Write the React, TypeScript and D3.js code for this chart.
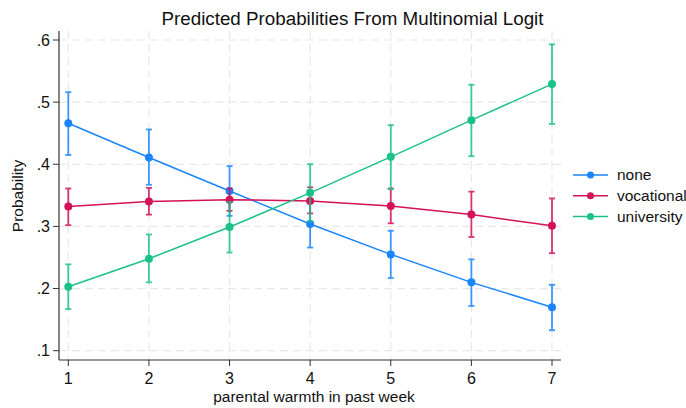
import React from "react";
import * as d3 from "d3";

const xValues = [1, 2, 3, 4, 5, 6, 7];
const seriesNames = ["none", "vocational", "university"];
const noneMean = [0.466, 0.411, 0.357, 0.304, 0.255, 0.21, 0.17];
const noneLo = [0.415, 0.367, 0.317, 0.266, 0.217, 0.172, 0.133];
const noneHi = [0.516, 0.456, 0.397, 0.342, 0.293, 0.247, 0.206];
const vocMean = [0.332, 0.34, 0.343, 0.341, 0.333, 0.319, 0.301];
const vocLo = [0.302, 0.319, 0.325, 0.321, 0.305, 0.283, 0.257];
const vocHi = [0.361, 0.362, 0.361, 0.363, 0.361, 0.356, 0.345];
const uniMean = [0.203, 0.248, 0.299, 0.354, 0.412, 0.471, 0.529];
const uniLo = [0.167, 0.21, 0.258, 0.308, 0.36, 0.413, 0.465];
const uniHi = [0.239, 0.287, 0.339, 0.4, 0.463, 0.528, 0.593];
const yTicks = [0.1, 0.2, 0.3, 0.4, 0.5, 0.6];
const yTickLabels = [".1", ".2", ".3", ".4", ".5", ".6"];
const colors = ["#1a85ff", "#d41159", "#1ac285"];

const series = [
  { name: seriesNames[0], mean: noneMean, lo: noneLo, hi: noneHi, color: colors[0] },
  { name: seriesNames[1], mean: vocMean, lo: vocLo, hi: vocHi, color: colors[1] },
  { name: seriesNames[2], mean: uniMean, lo: uniLo, hi: uniHi, color: colors[2] },
];

export default function App() {
  const W = 686, H = 408;
  const left = 59, right = 561, top = 31, bottom = 360;
  const x = d3.scaleLinear().domain([1, 7]).range([68.3, 552]);
  const y = d3.scaleLinear().domain([0.1, 0.6]).range([350.7, 40]);
  const line = d3.line<number>().x((_, i) => x(xValues[i])).y((d) => y(d));
  const font = "Arial, 'Liberation Sans', sans-serif";
  return (
    <svg width={W} height={H} style={{ position: "absolute", left: 0, top: 0, background: "#fff" }} fontFamily={font}>
      <rect x={0} y={0} width={W} height={H} fill="#fff" />
      {/* grid */}
      {yTicks.map((t) => (
        <line key={"gy" + t} x1={left} x2={right} y1={y(t)} y2={y(t)} stroke="#e8e8e8" strokeWidth={1.2} strokeDasharray="8,5" />
      ))}
      {xValues.map((t) => (
        <line key={"gx" + t} x1={x(t)} x2={x(t)} y1={top} y2={bottom} stroke="#e8e8e8" strokeWidth={1.2} strokeDasharray="8,5" />
      ))}
      {/* axes */}
      <line x1={left} x2={left} y1={top} y2={bottom} stroke="#333" strokeWidth={1.2} />
      <line x1={left} x2={right} y1={bottom} y2={bottom} stroke="#333" strokeWidth={1.2} />
      {yTicks.map((t, i) => (
        <g key={"yt" + t}>
          <line x1={left - 6} x2={left} y1={y(t)} y2={y(t)} stroke="#333" strokeWidth={1} />
          <text x={left - 9} y={y(t)} dy="0.35em" textAnchor="end" fontSize={16} fill="#111">{yTickLabels[i]}</text>
        </g>
      ))}
      {xValues.map((t) => (
        <g key={"xt" + t}>
          <line x1={x(t)} x2={x(t)} y1={bottom} y2={bottom + 6} stroke="#333" strokeWidth={1} />
          <text x={x(t)} y={bottom + 18} dy="0.35em" textAnchor="middle" fontSize={16} fill="#111">{t}</text>
        </g>
      ))}
      <text x={314} y={397} dy="0.35em" textAnchor="middle" fontSize={15.5} fill="#111">parental warmth in past week</text>
      <text transform={`translate(18,196) rotate(-90)`} dy="0.35em" textAnchor="middle" fontSize={15.5} fill="#111">Probability</text>
      <text x={352.5} y={18} dy="0.35em" textAnchor="middle" fontSize={18.8} fill="#111">Predicted Probabilities From Multinomial Logit</text>
      {/* series */}
      {series.map((s) => (
        <g key={s.name}>
          {xValues.map((xv, i) => (
            <g key={i} stroke={s.color} strokeWidth={1.8} opacity={0.85}>
              <line x1={x(xv)} x2={x(xv)} y1={y(s.lo[i])} y2={y(s.hi[i])} />
              <line x1={x(xv) - 3} x2={x(xv) + 3} y1={y(s.lo[i])} y2={y(s.lo[i])} />
              <line x1={x(xv) - 3} x2={x(xv) + 3} y1={y(s.hi[i])} y2={y(s.hi[i])} />
            </g>
          ))}
          <path d={line(s.mean) || ""} fill="none" stroke={s.color} strokeWidth={1.5} />
          {xValues.map((xv, i) => (
            <circle key={"c" + i} cx={x(xv)} cy={y(s.mean[i])} r={4} fill={s.color} />
          ))}
        </g>
      ))}
      {/* legend */}
      {series.map((s, i) => {
        const ly = 175 + i * 20.8;
        return (
          <g key={"lg" + s.name}>
            <line x1={573} x2={608} y1={ly} y2={ly} stroke={s.color} strokeWidth={1.5} />
            <circle cx={590.5} cy={ly} r={3.5} fill={s.color} />
            <text x={617} y={ly} dy="0.35em" fontSize={15.5} fill="#111">{s.name}</text>
          </g>
        );
      })}
    </svg>
  );
}
